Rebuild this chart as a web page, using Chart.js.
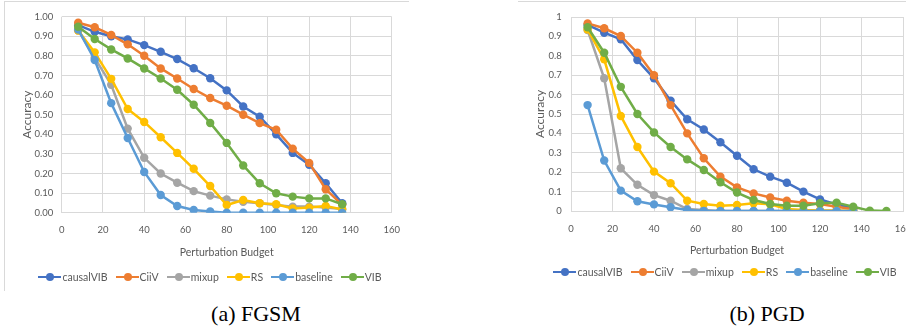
<!DOCTYPE html>
<html>
<head>
<meta charset="utf-8">
<script src="https://cdn.jsdelivr.net/npm/chart.js@4.4.1/dist/chart.umd.min.js"></script>
<style>
  html, body { margin: 0; padding: 0; background: #fff; }
  body { width: 906px; height: 333px; position: relative; overflow: hidden; font-family: Lato, "Open Sans", sans-serif; }
  canvas { position: absolute; top: 0; }
  .frame { position: absolute; border-color: #d9d9d9; border-style: solid; border-width: 0; }
  .legend { position: absolute; display: flex; justify-content: center; align-items: center; font-size: 10.5px; color: #595959; white-space: nowrap; }
  .legend .item { display: flex; align-items: center; margin: 0 4px; }
  .legend .sw { position: relative; width: 23px; height: 8px; margin-right: 1px; }
  .legend .sw .ln { position: absolute; left: 0; right: 0; top: 3px; height: 2px; }
  .legend .sw .dot { position: absolute; left: 8px; top: 0; width: 8px; height: 8px; border-radius: 50%; }
  .caption { position: absolute; font-family: "Liberation Serif", "DejaVu Serif", serif; font-size: 22px; color: #000; transform: translateX(-50%); white-space: nowrap; }
</style>
</head>
<body>

<div class="frame" style="left:4px; top:1px; width:404px; height:289px; border-top-width:1px; border-left-width:1px;"></div>
<div class="frame" style="left:518px; top:1px; width:400px; height:289px; border-top-width:1px;"></div>

<canvas id="chart_fgsm" width="420" height="300" style="left:0px;"></canvas>
<canvas id="chart_pgd" width="430" height="300" style="left:500px;"></canvas>

<div class="legend" id="legend_fgsm" style="left:4px; top:271px; width:412px; height:12px;"></div>
<div class="legend" id="legend_pgd" style="left:518px; top:266px; width:414px; height:12px;"></div>

<div class="caption" style="left:256px; top:301px;">(a) FGSM</div>
<div class="caption" style="left:767px; top:301px;">(b) PGD</div>

<script>
// series names and colours (Excel default palette)
var series_names = ['causalVIB', 'CiiV', 'mixup', 'RS', 'baseline', 'VIB'];
var series_colors = ['#4472C4', '#ED7D31', '#A5A5A5', '#FFC000', '#5B9BD5', '#70AD47'];

// (a) FGSM
var budgets_fgsm = [8, 16, 24, 32, 40, 48, 56, 64, 72, 80, 88, 96, 104, 112, 120, 128, 136];
var fgsm_causalVIB = [0.957, 0.923, 0.900, 0.884, 0.855, 0.821, 0.784, 0.737, 0.686, 0.624, 0.542, 0.490, 0.400, 0.305, 0.245, 0.150, 0.048];
var fgsm_CiiV      = [0.969, 0.946, 0.907, 0.859, 0.801, 0.736, 0.685, 0.631, 0.585, 0.546, 0.500, 0.457, 0.423, 0.327, 0.254, 0.120, 0.040];
var fgsm_mixup     = [0.930, 0.790, 0.653, 0.429, 0.280, 0.200, 0.153, 0.110, 0.087, 0.068, 0.056, 0.048, 0.039, 0.031, 0.031, 0.026, 0.019];
var fgsm_RS        = [0.929, 0.818, 0.683, 0.529, 0.463, 0.385, 0.305, 0.224, 0.136, 0.039, 0.065, 0.048, 0.043, 0.022, 0.026, 0.034, 0.017];
var fgsm_baseline  = [0.935, 0.779, 0.559, 0.381, 0.208, 0.090, 0.034, 0.014, 0.006, 0, 0, 0, 0, 0, 0, 0, 0];
var fgsm_VIB       = [0.949, 0.886, 0.833, 0.787, 0.736, 0.685, 0.627, 0.551, 0.458, 0.356, 0.241, 0.150, 0.099, 0.082, 0.073, 0.073, 0.043];

// (b) PGD
var budgets_pgd = [8, 16, 24, 32, 40, 48, 56, 64, 72, 80, 88, 96, 104, 112, 120, 128, 136, 144, 152];
var pgd_causalVIB = [0.959, 0.919, 0.885, 0.778, 0.684, 0.569, 0.473, 0.420, 0.354, 0.285, 0.215, 0.177, 0.146, 0.100, 0.060, 0.034, 0.014];
var pgd_CiiV      = [0.967, 0.942, 0.902, 0.816, 0.700, 0.546, 0.400, 0.272, 0.177, 0.122, 0.091, 0.070, 0.053, 0.043, 0.036, 0.022, 0.009];
var pgd_mixup     = [0.933, 0.684, 0.220, 0.135, 0.082, 0.053, 0.010, 0.005, 0, 0, 0, 0, 0, 0, 0, 0, 0];
var pgd_RS        = [0.936, 0.782, 0.490, 0.330, 0.203, 0.143, 0.053, 0.036, 0.027, 0.031, 0.040, 0.035, 0.010, 0.005, 0.003, 0.002, 0];
var pgd_baseline  = [0.546, 0.260, 0.105, 0.050, 0.034, 0.019, 0.005, 0, 0, 0, 0, 0, 0, 0, 0, 0, 0];
var pgd_VIB       = [0.947, 0.816, 0.640, 0.500, 0.405, 0.330, 0.266, 0.211, 0.148, 0.095, 0.057, 0.036, 0.027, 0.027, 0.040, 0.043, 0.022, 0.002, 0];

var x_ticks = [0, 20, 40, 60, 80, 100, 120, 140, 160];

var text_color = '#595959';
var grid_color = '#d9d9d9';

function to_points(xs, ys) {
  var pts = [];
  for (var i = 0; i < ys.length; i++) {
    pts.push({x: xs[i], y: ys[i]});
  }
  return pts;
}

function make_chart(id, budgets, values, lay) {
  var datasets = [];
  for (var i = 0; i < values.length; i++) {
    datasets.push({
      label: series_names[i],
      data: to_points(budgets, values[i]),
      borderColor: series_colors[i],
      backgroundColor: series_colors[i],
      borderWidth: 2.5,
      pointRadius: 4.2,
      pointHoverRadius: 4.2,
      pointBorderWidth: 0,
      tension: 0,
      order: values.length - i  // later series on top, like excel
    });
  }

  return new Chart(document.getElementById(id), {
    type: 'line',
    data: { datasets: datasets },
    options: {
      responsive: false,
      animation: false,
      layout: { padding: { left: 0, top: lay.top, right: lay.right, bottom: lay.bottom } },
      plugins: { legend: { display: false }, tooltip: { enabled: false } },
      scales: {
        x: {
          type: 'linear',
          min: 0, max: 160,
          afterBuildTicks: function (s) { s.ticks = x_ticks.map(function (v) { return {value: v}; }); },
          afterFit: function (s) { s.height = lay.xh; },
          grid: { color: grid_color, lineWidth: 1, drawTicks: false },
          border: { color: grid_color, width: 1 },
          ticks: { color: text_color, font: { family: 'Lato', size: 9.5 }, padding: lay.xpad, maxRotation: 0 },
          title: { display: true, text: 'Perturbation Budget', color: text_color, font: { family: 'Lato', size: 10.5 }, padding: 0 }
        },
        y: {
          min: 0, max: 1,
          ticks: {
            stepSize: 0.1,
            color: text_color,
            font: { family: 'Lato', size: 9.5 },
            padding: lay.ypad,
            callback: lay.fmt
          },
          afterFit: function (s) { s.width = lay.yw; },
          grid: { color: grid_color, lineWidth: 1, drawTicks: false },
          border: { display: false },
          title: { display: true, text: 'Accuracy', color: text_color, font: { family: 'Lato', size: 12 }, padding: { top: lay.ytitle, bottom: 0 } }
        }
      }
    }
  });
}

function fill_legend(id) {
  var html = '';
  for (var i = 0; i < series_names.length; i++) {
    html += '<div class="item"><span class="sw"><span class="ln" style="background:' + series_colors[i] + '"></span>' +
            '<span class="dot" style="background:' + series_colors[i] + '"></span></span>' + series_names[i] + '</div>';
  }
  document.getElementById(id).innerHTML = html;
}

make_chart('chart_fgsm', budgets_fgsm,
  [fgsm_causalVIB, fgsm_CiiV, fgsm_mixup, fgsm_RS, fgsm_baseline, fgsm_VIB],
  { top: 16.7, right: 28.3, bottom: 41.4, xh: 45.9, yw: 61.7, xpad: 12, ypad: 8.4, ytitle: 19.8,
    fmt: function (v) { return v.toFixed(2); } });

make_chart('chart_pgd', budgets_pgd,
  [pgd_causalVIB, pgd_CiiV, pgd_mixup, pgd_RS, pgd_baseline, pgd_VIB],
  { top: 17, right: 27, bottom: 43.4, xh: 45.6, yw: 71, xpad: 12.3, ypad: 9.3, ytitle: 32.8,
    fmt: function (v) { return String(Number(v.toFixed(1))); } });

fill_legend('legend_fgsm');
fill_legend('legend_pgd');
</script>
</body>
</html>
